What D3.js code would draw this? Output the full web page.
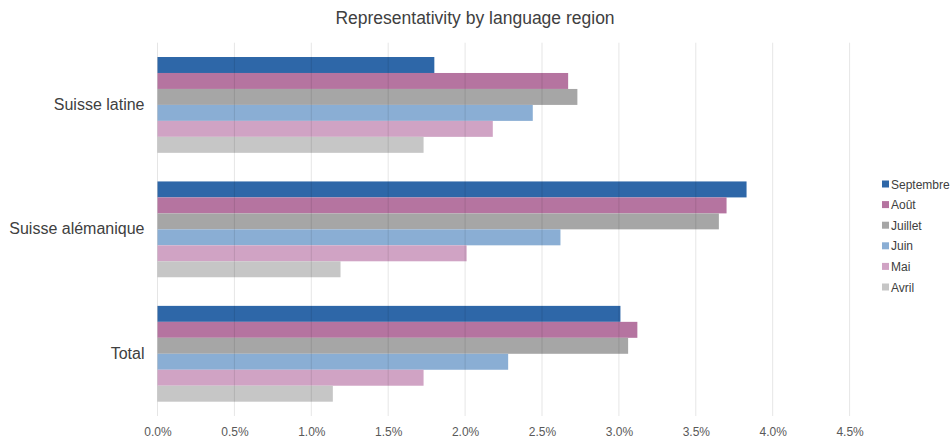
<!DOCTYPE html>
<html><head><meta charset="utf-8">
<script src="https://cdn.jsdelivr.net/npm/d3@7"></script>
<style>body{margin:0;background:#fff;font-family:"Liberation Sans",Arial,sans-serif;}</style>
</head><body>
<svg id="c" width="951" height="442"></svg>
<script>
const categories = ["Suisse latine", "Suisse alémanique", "Total"];
const seriesNames = ["Septembre", "Août", "Juillet", "Juin", "Mai", "Avril"];
const seriesColors = ["#2E67A8", "#B574A0", "#A6A6A6", "#8AAED4", "#D0A3C4", "#C6C6C6"];
const septembre = [1.80, 3.83, 3.01];
const aout      = [2.67, 3.70, 3.12];
const juillet   = [2.73, 3.65, 3.06];
const juin      = [2.44, 2.62, 2.28];
const mai       = [2.18, 2.01, 1.73];
const avril     = [1.73, 1.19, 1.14];
const seriesValues = [septembre, aout, juillet, juin, mai, avril];
const xTicks = [0, 0.5, 1, 1.5, 2, 2.5, 3, 3.5, 4, 4.5];

(function () {
const svg = d3.select("#c");
const pL = 157.5, pR = 849.6, pT = 42.7, pB = 416;
const x = d3.scaleLinear().domain([0, 4.5]).range([pL, pR]);
const y0 = d3.scaleBand().domain(categories).range([pT, pB]).paddingInner(0.23).paddingOuter(0.115);
const y1 = d3.scaleBand().domain(seriesNames).range([0, y0.bandwidth()]);

svg.append("text").attr("x", 475).attr("y", 24).attr("text-anchor", "middle")
  .attr("font-size", 17.5).attr("fill", "#404040").text("Representativity by language region");

const g = svg.append("g");
categories.forEach((c, ci) => {
  seriesNames.forEach((s, si) => {
    g.append("rect").attr("x", x(0)).attr("y", y0(c) + y1(s))
      .attr("width", x(seriesValues[si][ci]) - x(0)).attr("height", y1.bandwidth())
      .attr("fill", seriesColors[si]);
  });
});

const grid = svg.append("g");
xTicks.forEach(t => {
  grid.append("line").attr("x1", x(t)).attr("x2", x(t)).attr("y1", pT).attr("y2", pB)
    .attr("stroke", "#000").attr("stroke-opacity", 0.1).attr("stroke-width", 1);
});

const ax = svg.append("g").attr("transform", `translate(0,${pB})`)
  .call(d3.axisBottom(x).tickValues(xTicks).tickFormat(d => d.toFixed(1) + "%").tickSize(0).tickPadding(11));
ax.select(".domain").remove();
ax.selectAll("text").attr("font-size", 12).attr("fill", "#595959").attr("font-family", "Liberation Sans, Arial, sans-serif");

const ay = svg.append("g").attr("transform", `translate(${pL},0)`)
  .call(d3.axisLeft(y0).tickSize(0).tickPadding(13));
ay.select(".domain").remove();
ay.selectAll("text").attr("font-size", 16).attr("fill", "#404040").attr("font-family", "Liberation Sans, Arial, sans-serif");

const lg = svg.append("g");
seriesNames.forEach((s, i) => {
  const yy = 184 + i * 20.6;
  lg.append("rect").attr("x", 882).attr("y", yy - 3.5).attr("width", 7).attr("height", 7).attr("fill", seriesColors[i]);
  lg.append("text").attr("x", 891).attr("y", yy + 4.5).attr("font-size", 12).attr("fill", "#404040").text(s);
});
})();
</script>
</body></html>
